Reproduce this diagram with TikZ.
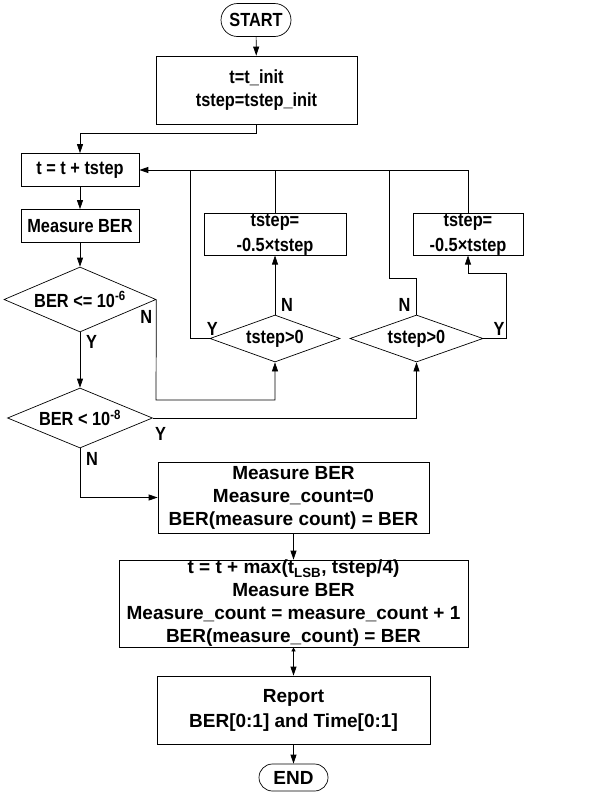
\documentclass[tikz,border=0pt]{standalone}
\usepackage{fontspec}
\setmainfont{Liberation Sans}
\newfontfamily\narrowsf{Liberation Sans}[FakeStretch=0.86]
\usepackage{tikz}
\usetikzlibrary{arrows.meta, positioning, shapes.geometric, shapes.misc}

\begin{document}
\begin{tikzpicture}[
    x=1pt,y=-1pt,
    stepbox/.style={draw,line width=0.7pt,align=center,inner sep=0pt,
      font=\narrowsf\bfseries\fontsize{19}{23}\selectfont},
    widebox/.style={stepbox,font=\bfseries\fontsize{19}{23}\selectfont},
    test/.style={draw,diamond,line width=0.7pt,inner sep=0pt,
      font=\narrowsf\bfseries\fontsize{19}{23}\selectfont},
    term/.style={draw,rounded rectangle,line width=0.7pt,inner sep=0pt,
      font=\narrowsf\bfseries\fontsize{19}{23}\selectfont},
    lbl/.style={inner sep=0pt,font=\narrowsf\bfseries\fontsize{19}{23}\selectfont},
    arrow/.style={-{Triangle[length=9pt,width=6pt]},line width=0.7pt},
    line/.style={line width=0.7pt}
  ]
  \useasboundingbox (0,0) rectangle (608,793);

  % main column
  \node[term,minimum width=70,minimum height=33] (start) at (256,20) {START};
  \node[stepbox,minimum width=201,minimum height=68] (init) at (256.5,90) {t=t\_init\\tstep=tstep\_init};
  \node[stepbox,minimum width=118,minimum height=33] (tinc) at (80,170) {t = t + tstep};
  \node[stepbox,minimum width=118,minimum height=33] (meas) at (80,226) {Measure BER};
  \node[test,aspect=2.34,minimum width=152,minimum height=65] (dec1) at (80,299.5) {BER <= 10\textsuperscript{-6}};
  \node[test,aspect=2.42,minimum width=145,minimum height=60] (dec2) at (80,418) {BER < 10\textsuperscript{-8}};

  % step reversal branches
  \node[stepbox,minimum width=142,minimum height=41,
    font=\narrowsf\bfseries\fontsize{19}{25}\selectfont] (half1) at (275,234.5) {tstep=\\-0.5×tstep};
  \node[stepbox,minimum width=110,minimum height=41,
    font=\narrowsf\bfseries\fontsize{19}{25}\selectfont] (half2) at (468,234.5) {tstep=\\-0.5×tstep};
  \node[test,aspect=2.77,minimum width=130,minimum height=47] (sign1) at (275,338.5) {tstep>0};
  \node[test,aspect=2.83,minimum width=133,minimum height=47] (sign2) at (416.5,338.5) {tstep>0};

  % final measurement
  \node[widebox,minimum width=271,minimum height=71] (meas2) at (293.5,497.5)
    {Measure BER\\Measure\_count=0\\BER(measure count) = BER};
  \node[widebox,minimum width=349,minimum height=87] (upd) at (293.5,603.5)
    {t = t + max(t\textsubscript{LSB}, tstep/4)\\Measure BER\\Measure\_count = measure\_count + 1\\BER(measure\_count) = BER};
  \node[widebox,minimum width=273,minimum height=68,
    font=\bfseries\fontsize{19}{25}\selectfont] (report) at (293.5,710) {Report\\BER[0:1] and Time[0:1]};
  \node[term,minimum width=69,minimum height=27,
    font=\bfseries\fontsize{19}{23}\selectfont] (end) at (293.5,777.5) {END};

  \coordinate (j0) at (80,133);
  \coordinate (c1) at (156,400);
  \coordinate (k1) at (190,170);
  \coordinate (k2) at (389,278);
  \coordinate (k3) at (389,170);
  \coordinate (k4) at (506,273);

  \draw[arrow] (start) -- (init);
  \draw[arrow] (init.south) |- (j0) -- (tinc.north);
  \draw[arrow] (tinc) -- (meas);
  \draw[arrow] (meas) -- (dec1);
  \draw[arrow] (dec1) -- (dec2);
  \draw[arrow] (dec1.east) -- (c1) -| (sign1.south);
  \draw[arrow] (dec2.east) -| (sign2.south);
  \draw[arrow] (dec2.south) |- (meas2.west);
  \draw[arrow] (meas2) -- (upd);
  \draw[{Triangle[length=4pt,width=4pt]}-{Triangle[length=9pt,width=6pt]},line width=0.7pt] (upd) -- (report);
  \draw[arrow] (report) -- (end);

  % loop back to t = t + tstep
  \draw[arrow,line width=1pt] (half2.north) |- (tinc.east);
  \draw[line] (half1.north) -- (half1.north |- tinc.east);
  \draw[line] (sign1.west) -| (k1);
  \draw[line] (sign2.north) |- (k2) -- (k3);
  \draw[arrow] (sign1.north) -- (half1.south);
  \draw[arrow] (sign2.east) -| (k4) -| (half2.south);

  % branch labels
  \node[lbl,anchor=north east,xshift=-4pt,yshift=-11pt] (n1) at (dec1.east) {N};
  \node[lbl,anchor=north west,xshift=6pt,yshift=-3pt] (y1) at (dec1.south) {Y};
  \node[lbl,anchor=north west,xshift=2pt,yshift=-9pt] (y2) at (dec2.east) {Y};
  \node[lbl,anchor=north west,xshift=6pt,yshift=-4pt] (n2) at (dec2.south) {N};
  \node[lbl,anchor=south west,xshift=-3pt,yshift=3pt] (y3) at (sign1.west) {Y};
  \node[lbl,anchor=south west,xshift=6pt,yshift=3pt] (n3) at (sign1.north) {N};
  \node[lbl,anchor=south east,xshift=-6pt,yshift=3pt] (n4) at (sign2.north) {N};
  \node[lbl,anchor=south west,xshift=10pt,yshift=3pt] (y4) at (sign2.east) {Y};
\end{tikzpicture}
\end{document}
